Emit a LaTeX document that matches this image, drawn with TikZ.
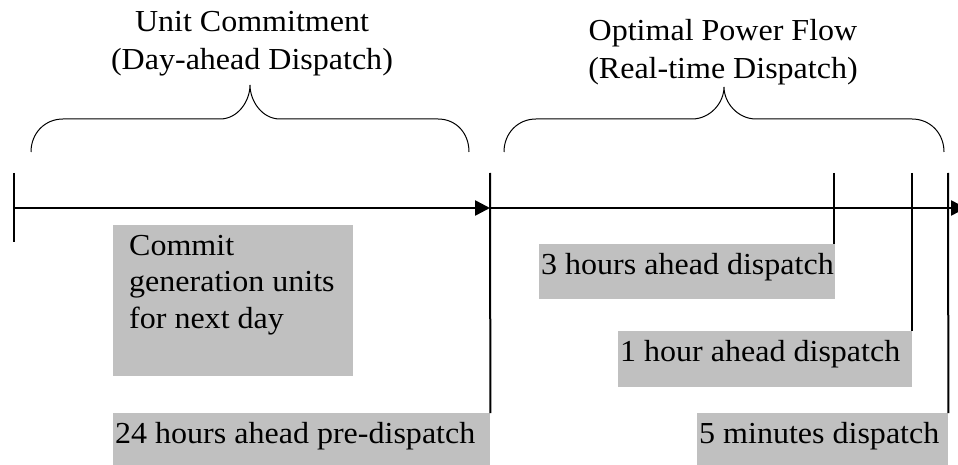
\documentclass[tikz,border=0pt]{standalone}
\usepackage{fontspec}
\setmainfont{Liberation Serif}[FakeStretch=1.05]
\usetikzlibrary{arrows.meta}
\definecolor{boxgray}{HTML}{C0C0C0}
\begin{document}
\begin{tikzpicture}[x=1pt,y=-1pt,
  txt/.style={font=\fontsize{30.5pt}{37pt}\selectfont, inner sep=0pt},
  gbox/.style={fill=boxgray, draw=none, inner sep=0pt, anchor=north west},
  axis/.style={line width=2.6pt, -{Triangle[length=15pt,width=15pt]}},
  tick/.style={line width=2pt},
  brace/.style={line width=1pt}]
\useasboundingbox (0,0) rectangle (958,465);
% titles (base anchor = baseline of last line)
\node[txt, align=center, anchor=base, font=\fontsize{30.5pt}{38pt}\selectfont] (uc) at (252,70) {Unit Commitment\\(Day-ahead Dispatch)};
\node[txt, align=center, anchor=base, font=\fontsize{30.5pt}{38pt}\selectfont] (opf) at (723,79) {Optimal Power Flow\\(Real-time Dispatch)};
% braces
\draw[brace] (31,152) .. controls (31,133) and (45,119) .. (63,119) -- (220,119)
  .. controls (238,119) and (250,101) .. (250,85)
  .. controls (250,101) and (262,119) .. (280,119) -- (438,119)
  .. controls (456,119) and (469,133) .. (469,152);
\draw[brace] (504,152) .. controls (504,133) and (518,119) .. (536,119) -- (692,119)
  .. controls (710,119) and (724,103) .. (724,87)
  .. controls (724,103) and (738,119) .. (756,119) -- (912,119)
  .. controls (930,119) and (944,133) .. (944,152);
% boxes
\node[gbox, minimum width=240pt, minimum height=151pt] (commitbox) at (113,225) {};
\node[gbox, minimum width=377pt, minimum height=53pt] (box24) at (113,413) {};
\node[gbox, minimum width=296pt, minimum height=55pt] (box3) at (539,244) {};
\node[gbox, minimum width=294pt, minimum height=56pt] (box1) at (618,331) {};
\node[gbox, minimum width=251pt, minimum height=53pt] (box5) at (697,413) {};
% box texts
\node[txt, anchor=base west, align=left, font=\fontsize{30.5pt}{36.5pt}\selectfont] (commit) at (129,328) {Commit\\generation units\\for next day};
\node[txt, anchor=base west] (t24) at (115,443) {24 hours ahead pre-dispatch};
\node[txt, anchor=base west] (t3) at (541,274) {3 hours ahead dispatch};
\node[txt, anchor=base west] (t1) at (620,361) {1 hour ahead dispatch};
\node[txt, anchor=base west] (t5) at (699,443) {5 minutes dispatch};
% axis
\coordinate (a0) at (14,208);
\coordinate (a1) at (490,208);
\coordinate (a2) at (966,208);
\draw[axis] (a0) -- (a1);
\draw[axis] (a1) -- (a2);
% ticks
\coordinate (k0) at (14,173);
\coordinate (k0b) at (14,242);
\coordinate (k1) at (490,173);
\coordinate (k2) at (834,173);
\coordinate (k3) at (912,173);
\coordinate (k4) at (948,173);
\draw[tick] (k0) -- (k0b);
\draw[tick] (k1) -- (box24.north east);
\draw[tick] (k2) -- (k2 |- box3.north);
\draw[tick] (k3) -- (k3 |- box1.north);
\draw[tick] (k4) -- (box5.north east);
\end{tikzpicture}
\end{document}
